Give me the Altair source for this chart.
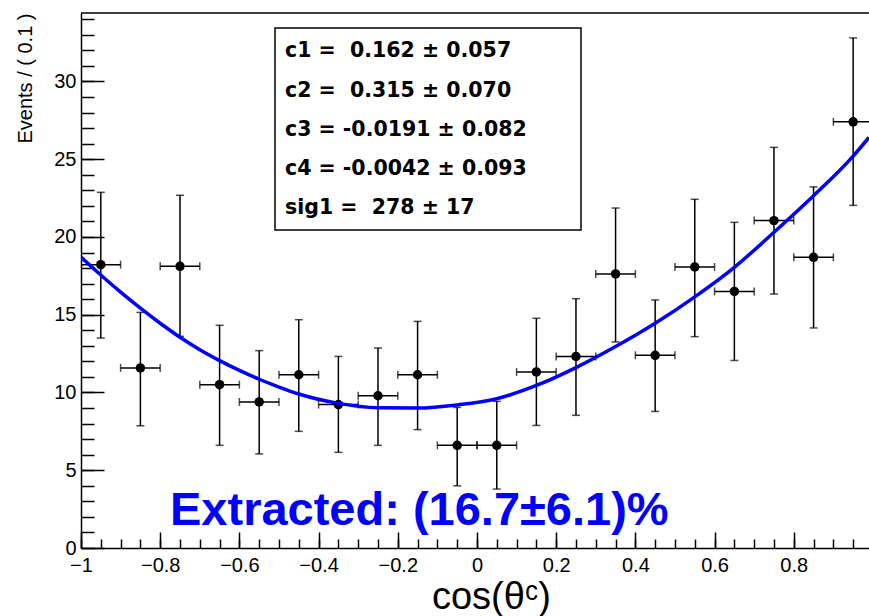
import altair as alt
import pandas as pd

# ---------------- data ----------------
bin_centers = [-0.95, -0.85, -0.75, -0.65, -0.55, -0.45, -0.35, -0.25, -0.15, -0.05,
               0.05, 0.15, 0.25, 0.35, 0.45, 0.55, 0.65, 0.75, 0.85, 0.95]
events = [18.22, 11.58, 18.11, 10.50, 9.39, 11.14, 9.22, 9.79, 11.14, 6.60,
          6.60, 11.32, 12.32, 17.62, 12.39, 18.07, 16.50, 21.05, 18.69, 27.40]
err_low = [4.72, 3.72, 4.50, 3.90, 3.34, 3.64, 3.07, 3.19, 3.53, 2.60,
           2.81, 3.44, 3.79, 4.37, 3.61, 4.48, 4.44, 4.72, 4.54, 5.37]
err_high = [4.65, 3.57, 4.57, 3.82, 3.30, 3.54, 3.10, 3.07, 3.43, 2.44,
            2.83, 3.45, 3.71, 4.24, 3.56, 4.35, 4.44, 4.71, 4.53, 5.40]
bin_half_width = 0.05

curve_x = [-1.0, -0.95, -0.9, -0.85, -0.8, -0.75, -0.7, -0.65, -0.6, -0.55, -0.5,
           -0.45, -0.35, -0.25, -0.15, -0.05, 0.05, 0.15, 0.25, 0.35, 0.45, 0.55,
           0.65, 0.75, 0.85, 0.95, 0.99]
curve_y = [18.70, 17.55, 16.45, 15.42, 14.45, 13.55, 12.75, 12.05, 11.42, 10.85, 10.35,
           9.90, 9.30, 9.02, 9.00, 9.20, 9.60, 10.45, 11.60, 12.95, 14.45, 16.15,
           18.05, 20.30, 22.65, 25.20, 26.40]

NB = "\u00a0"
stats_lines = ["c1 =" + NB + " 0.162 ± 0.057",
               "c2 =" + NB + " 0.315 ± 0.070",
               "c3 = -0.0191 ± 0.082",
               "c4 = -0.0042 ± 0.093",
               "sig1 =" + NB + " 278 ± 17"]
extracted_text = ["Extracted: (16.7±6.1)%"]

x_major = [-1.0, -0.8, -0.6, -0.4, -0.2, 0.0, 0.2, 0.4, 0.6, 0.8]
x_minor = [round(-1 + 0.05 * i, 2) for i in range(40)]
y_major = [0, 5, 10, 15, 20, 25, 30]
y_minor = list(range(0, 35))

# ---------------- layout ----------------
W, H = 788, 535
FONT = "Liberation Sans"

df = pd.DataFrame({"x": bin_centers, "y": events})
df["ylo"] = [v - e for v, e in zip(events, err_low)]
df["yhi"] = [v + e for v, e in zip(events, err_high)]
df["xlo"] = df["x"] - bin_half_width
df["xhi"] = df["x"] + bin_half_width

caps_v = pd.concat([df[["x"]].assign(yc=df["ylo"]), df[["x"]].assign(yc=df["yhi"])])
caps_h = pd.concat([df[["y"]].assign(xc=df["xlo"]), df[["y"]].assign(xc=df["xhi"])])

curve = pd.DataFrame({"x": curve_x, "y": curve_y})

xs = alt.Scale(domain=[-1, 0.99], nice=False, zero=False)
ys = alt.Scale(domain=[0, 34.4], nice=False, zero=False)

x_label_axis = alt.Axis(
    orient="bottom", values=x_major, format="~g", ticks=False, grid=False,
    domain=True, domainColor="black", domainWidth=1.5,
    labelFont=FONT, labelFontSize=20, labelColor="black", labelPadding=7,
    labelFlush=False, labelOverlap=False,
    title="cos(θᶜ)", titleFont=FONT, titleFontSize=38, titleFontWeight="normal",
    titleColor="black", titleX=410, titleY=60, titleAlign="center",
    titleBaseline="alphabetic")
y_label_axis = alt.Axis(
    orient="left", values=y_major, ticks=False, grid=False,
    domain=True, domainColor="black", domainWidth=1.5,
    labelFont=FONT, labelFontSize=20, labelColor="black", labelPadding=5,
    labelOverlap=False,
    title="Events / ( 0.1 )", titleFont=FONT, titleFontSize=20,
    titleFontWeight="normal", titleColor="black", titleAngle=270,
    titleAlign="right", titleBaseline="middle", titleX=-56, titleY=0)


def tick_axis(orient, values, size, offset):
    return alt.Axis(orient=orient, values=values, offset=offset, labels=False,
                    domain=False, grid=False, title=None, ticks=True,
                    tickColor="black", tickWidth=1.5, tickSize=size)


NOAX = None

# vertical error bars (carry the label axes)
v_err = alt.Chart(df).mark_rule(color="black", strokeWidth=1.5, clip=True).encode(
    x=alt.X("x:Q", scale=xs, axis=x_label_axis),
    y=alt.Y("ylo:Q", scale=ys, axis=y_label_axis),
    y2="yhi:Q")

# horizontal error bars (carry major tick axes)
h_err = alt.Chart(df).mark_rule(color="black", strokeWidth=1.5, clip=True).encode(
    x=alt.X("xlo:Q", scale=xs, axis=tick_axis("top", x_major, 16, -H)),
    x2="xhi:Q",
    y=alt.Y("y:Q", scale=ys, axis=tick_axis("right", y_major, 23, -W)))

# caps (carry minor tick axes)
capv = alt.Chart(caps_v).mark_tick(orient="horizontal", size=8, thickness=1.5,
                                   color="black", clip=True).encode(
    x=alt.X("x:Q", scale=xs, axis=tick_axis("top", x_minor, 9, -H)),
    y=alt.Y("yc:Q", scale=ys, axis=tick_axis("right", y_minor, 13, -W)))

caph = alt.Chart(caps_h).mark_tick(orient="vertical", size=8, thickness=1.5,
                                   color="black", clip=True).encode(
    x=alt.X("xc:Q", scale=xs, axis=NOAX),
    y=alt.Y("y:Q", scale=ys, axis=NOAX))

points = alt.Chart(df).mark_point(filled=True, color="black", size=90, opacity=1,
                                  clip=True).encode(
    x=alt.X("x:Q", scale=xs, axis=NOAX),
    y=alt.Y("y:Q", scale=ys, axis=NOAX))

line = alt.Chart(curve).mark_line(color="#0000ff", strokeWidth=3.5,
                                  interpolate="monotone", clip=True).encode(
    x=alt.X("x:Q", scale=xs, axis=NOAX),
    y=alt.Y("y:Q", scale=ys, axis=NOAX))

frame_top = alt.Chart(pd.DataFrame({"a": [0]})).mark_rule(
    color="black", strokeWidth=1.5).encode(
    x=alt.value(0), x2=alt.value(W), y=alt.value(0))

box = alt.Chart(pd.DataFrame({"a": [0]})).mark_rect(
    fill="white", stroke="black", strokeWidth=1.5).encode(
    x=alt.value(194), x2=alt.value(500), y=alt.value(15), y2=alt.value(217))

stats_df = pd.DataFrame({"t": stats_lines})
stats_df["py"] = [44.3 + 39.25 * i for i in range(len(stats_lines))]
stats = alt.Chart(stats_df).mark_text(
    align="left", baseline="alphabetic", font="DejaVu Sans", fontWeight="bold",
    fontSize=20.5, color="black").encode(
    x=alt.value(204), y=alt.Y("py:Q", scale=None, axis=NOAX), text="t:N")

extracted = alt.Chart(pd.DataFrame({"t": extracted_text})).mark_text(
    align="left", baseline="alphabetic", font=FONT, fontWeight="bold",
    fontSize=47, color="#0000ff").encode(
    x=alt.value(89), y=alt.value(512), text="t:N")

chart = alt.layer(
    v_err, h_err, capv, caph, points, line, frame_top, box, stats, extracted
).resolve_axis(x="independent", y="independent").properties(
    width=W, height=H,
    autosize=alt.AutoSizeParams(type="none"),
    padding={"left": 81, "top": 13, "right": 0, "bottom": 68},
    background="white",
).configure_view(stroke=None)

chart.save("out.html", embed_options={"renderer": "svg", "actions": False})
